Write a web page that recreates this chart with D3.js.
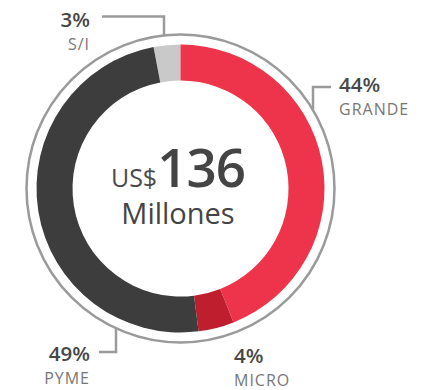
<!DOCTYPE html>
<html>
<head>
<meta charset="utf-8">
<script src="https://cdn.jsdelivr.net/npm/d3@7"></script>
<style>
  html, body { margin: 0; padding: 0; background: #fff; }
  svg { display: block; font-family: "Open Sans", "Noto Sans", sans-serif; }
</style>
</head>
<body>
<svg id="chart" width="423" height="390"></svg>
<script>
// Distribución por tamaño de empresa (porcentaje del total)
const categories = ["GRANDE", "MICRO", "PYME", "S/I"];
const values = [44, 4, 49, 3];
const colors = ["#ee344b", "#bf1e2e", "#3d3d3d", "#c9c9ca"];
const totalLabel = { prefix: "US$", amount: "136", unit: "Millones" };

const svg = d3.select("#chart");
const cx = 180.5, cy = 188.5;
const outerR = 144, innerR = 108, ringR = 154;

const g = svg.append("g").attr("transform", `translate(${cx},${cy})`);

// Slices start at 12 o'clock; S/I is the last slice and sits just left of the top
const pie = d3.pie().sort(null).value(d => d.value)
  .startAngle(-values[3] / 100 * 2 * Math.PI)
  .endAngle(2 * Math.PI - values[3] / 100 * 2 * Math.PI);
const ordered = [3, 0, 1, 2].map(i => ({ cat: categories[i], value: values[i], color: colors[i] }));
const arcs = pie(ordered);
const arc = d3.arc().innerRadius(innerR).outerRadius(outerR);

g.selectAll("path.slice").data(arcs).join("path")
  .attr("class", "slice")
  .attr("d", arc)
  .attr("fill", d => d.data.color);

// Thin outer ring
g.append("circle").attr("r", ringR)
  .attr("fill", "none").attr("stroke", "#9a9a9c").attr("stroke-width", 2.5);

// Leader lines: vertical from the ring to an elbow, then horizontal to the label
function ringY(x, sign) { return sign * Math.sqrt(ringR * ringR - x * x); }
const leaders = [
  { cat: "S/I", x: 164 - cx, elbowY: 16.5 - cy, endX: 102 - cx, side: -1 },
  { cat: "GRANDE", x: 313 - cx, elbowY: 87 - cy, endX: 331 - cx, side: -1 },
  { cat: "PYME", x: 116 - cx, elbowY: 352 - cy, endX: 99 - cx, side: 1 }
];
g.selectAll("path.leader").data(leaders).join("path")
  .attr("class", "leader")
  .attr("fill", "none").attr("stroke", "#9a9a9c").attr("stroke-width", 2.5)
  .attr("d", d => `M${d.x},${ringY(d.x, d.side)}V${d.elbowY}H${d.endX}`);

// Labels: percentage on top, category underneath
const labelPos = {
  "S/I":    { x: 90,  y: 27,  anchor: "end" },
  "GRANDE": { x: 339, y: 92,  anchor: "start" },
  "PYME":   { x: 90,  y: 361, anchor: "end" },
  "MICRO":  { x: 234, y: 363, anchor: "start" }
};
categories.forEach((c, i) => {
  const p = labelPos[c];
  svg.append("text").attr("x", p.x).attr("y", p.y)
    .attr("text-anchor", p.anchor)
    .attr("font-size", 20.5).attr("font-weight", 600).attr("fill", "#474747")
    .text(values[i] + "%");
  svg.append("text").attr("x", p.x).attr("y", p.y + 23)
    .attr("text-anchor", p.anchor)
    .attr("font-size", 16).attr("font-weight", 400).attr("fill", "#777")
    .attr("letter-spacing", 1)
    .text(c);
});

// Center total
const center = svg.append("text").attr("x", 178).attr("y", 187)
  .attr("text-anchor", "middle").attr("fill", "#444");
center.append("tspan").attr("font-size", 25).attr("fill", "#4a4a4a").text(totalLabel.prefix);
center.append("tspan").attr("font-size", 53).attr("font-weight", 600).attr("letter-spacing", -1).text(totalLabel.amount);
svg.append("text").attr("x", 178).attr("y", 224)
  .attr("text-anchor", "middle").attr("fill", "#444")
  .attr("font-size", 29).text(totalLabel.unit);
</script>
</body>
</html>
